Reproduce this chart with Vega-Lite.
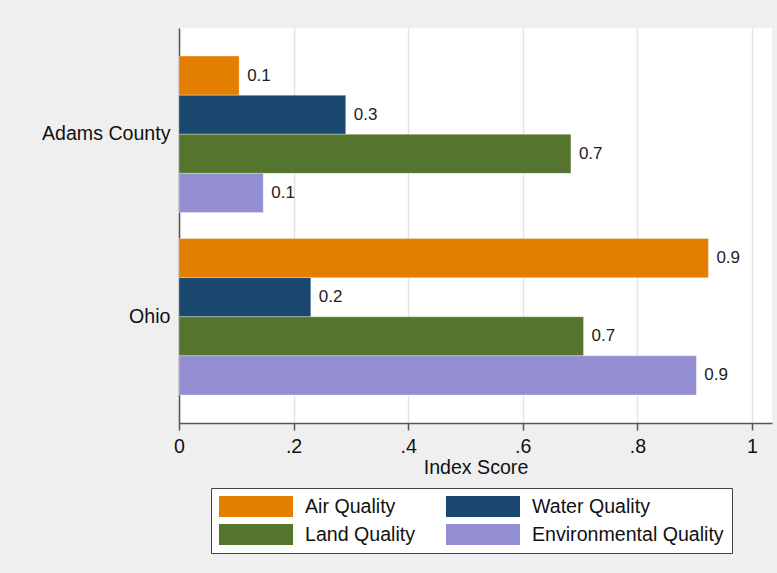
{
  "$schema": "https://vega.github.io/schema/vega-lite/v6.json",
  "width": 593,
  "height": 395,
  "autosize": {"type": "none"},
  "padding": {"left": 179, "top": 28, "right": 5, "bottom": 150},
  "background": "#efefef",
  "data": {
    "values": [
      {"region": "Adams County", "measure": "Air Quality", "score": 0.105},
      {"region": "Adams County", "measure": "Water Quality", "score": 0.291},
      {"region": "Adams County", "measure": "Land Quality", "score": 0.684},
      {"region": "Adams County", "measure": "Environmental Quality", "score": 0.147},
      {"region": "Ohio", "measure": "Air Quality", "score": 0.924},
      {"region": "Ohio", "measure": "Water Quality", "score": 0.230},
      {"region": "Ohio", "measure": "Land Quality", "score": 0.706},
      {"region": "Ohio", "measure": "Environmental Quality", "score": 0.903}
    ]
  },
  "encoding": {
    "y": {
      "field": "region",
      "type": "nominal",
      "sort": ["Adams County", "Ohio"],
      "scale": {"paddingInner": 0.143, "paddingOuter": 0.154},
      "axis": {
        "title": null,
        "ticks": false,
        "labelPadding": 9,
        "labelFontSize": 19.6,
        "labelFont": "Liberation Sans",
        "labelColor": "#111111",
        "domainColor": "#555555",
        "domainWidth": 1.5,
        "grid": false
      }
    },
    "yOffset": {
      "field": "measure",
      "type": "nominal",
      "sort": ["Air Quality", "Water Quality", "Land Quality", "Environmental Quality"],
      "scale": {"paddingInner": 0, "paddingOuter": 0}
    },
    "x": {
      "field": "score",
      "type": "quantitative",
      "scale": {"domain": [0, 1.035], "nice": false, "zero": true},
      "axis": {
        "title": "Index Score",
        "values": [0, 0.2, 0.4, 0.6, 0.8, 1],
        "labelExpr": "datum.value == 0 ? '0' : datum.value == 1 ? '1' : '.' + format(datum.value * 10, '.0f')",
        "labelFlush": false,
        "labelFontSize": 19.6,
        "labelFont": "Liberation Sans",
        "labelColor": "#111111",
        "labelBaseline": "alphabetic",
        "labelPadding": 22,
        "tickSize": 7,
        "tickColor": "#555555",
        "tickWidth": 1.5,
        "domainColor": "#555555",
        "domainWidth": 1.5,
        "grid": true,
        "gridColor": "#e4e4e4",
        "gridWidth": 1.5,
        "titleFont": "Liberation Sans",
        "titleFontSize": 19.6,
        "titleFontWeight": "normal",
        "titleColor": "#111111",
        "titleBaseline": "alphabetic",
        "titleY": 50
      }
    }
  },
  "layer": [
    {
      "mark": {"type": "bar", "stroke": "#ffffff", "strokeOpacity": 0.3, "strokeWidth": 1},
      "encoding": {
        "color": {
          "field": "measure",
          "type": "nominal",
          "scale": {
            "domain": ["Air Quality", "Water Quality", "Land Quality", "Environmental Quality"],
            "range": ["#e37e00", "#1a476f", "#55752f", "#938dd2"]
          },
          "legend": {
            "title": null,
            "orient": "none",
            "legendX": 32,
            "legendY": 460,
            "columns": 2,
            "direction": "horizontal",
            "gridAlign": "each",
            "columnPadding": 30,
            "rowPadding": 7,
            "clipHeight": 21,
            "symbolType": "M-1,-0.284H1V0.284H-1Z",
            "symbolSize": 5476,
            "symbolStrokeWidth": 0,
            "symbolOpacity": 1,
            "labelOffset": 12,
            "labelFont": "Liberation Sans",
            "labelFontSize": 19.6,
            "labelColor": "#111111",
            "labelLimit": 400,
            "padding": 8,
            "fillColor": "#ffffff",
            "strokeColor": "#444444"
          }
        }
      }
    },
    {
      "mark": {
        "type": "text",
        "align": "left",
        "baseline": "middle",
        "dx": 8,
        "font": "Liberation Sans",
        "fontSize": 17,
        "color": "#222222"
      },
      "encoding": {
        "text": {"field": "score", "type": "quantitative", "format": ".1f"}
      }
    }
  ],
  "config": {
    "view": {"fill": "#ffffff", "stroke": null}
  }
}
